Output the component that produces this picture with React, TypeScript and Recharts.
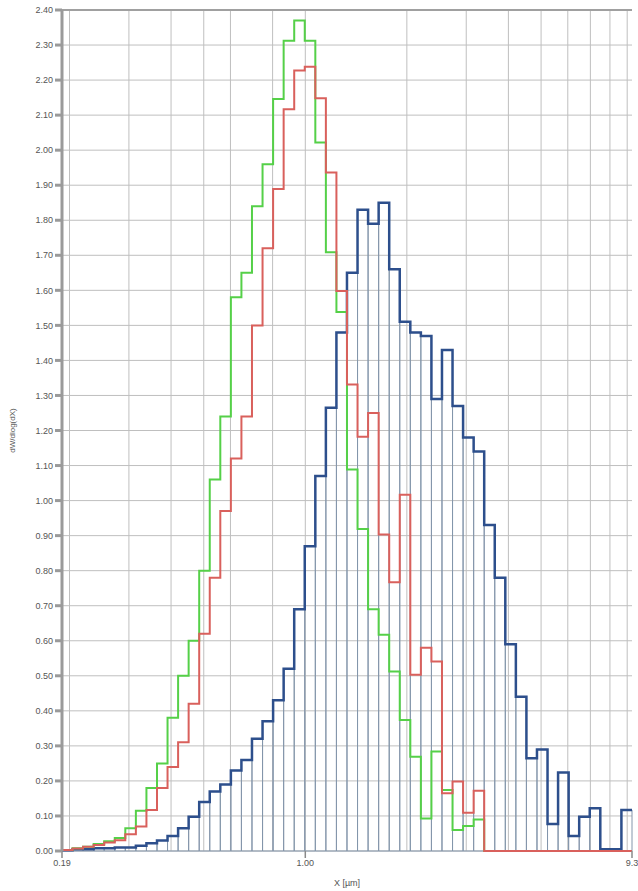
import React from 'react';
import { ComposedChart, Line, XAxis, YAxis, CartesianGrid, ReferenceArea, ReferenceLine } from 'recharts';

// bin edges (µm), log-spaced classes from 0.19 to 9.3
const binEdges = [
  0.19, 0.2042, 0.2194, 0.2358, 0.2534, 0.2724, 0.2927, 0.3146, 0.3381, 0.3634,
  0.3905, 0.4197, 0.451, 0.4847, 0.5209, 0.5598, 0.6017, 0.6466, 0.6949, 0.7469,
  0.8027, 0.8626, 0.9271, 0.9963, 1.0708, 1.1508, 1.2367, 1.3291, 1.4284, 1.5351,
  1.6498, 1.7731, 1.9055, 2.0479, 2.2009, 2.3653, 2.542, 2.7319, 2.936, 3.1553,
  3.3911, 3.6444, 3.9166, 4.2092, 4.5237, 4.8616, 5.2248, 5.6151, 6.0346, 6.4854,
  6.9699, 7.4906, 8.0501, 8.6515, 9.3,
];

const blueSeries = [
  0.002, 0.005, 0.005, 0.008, 0.008, 0.01, 0.01, 0.015, 0.022, 0.03,
  0.043, 0.065, 0.098, 0.14, 0.17, 0.19, 0.23, 0.26, 0.32, 0.37,
  0.43, 0.52, 0.69, 0.87, 1.07, 1.265, 1.48, 1.65, 1.83, 1.79,
  1.85, 1.66, 1.51, 1.48, 1.47, 1.29, 1.43, 1.27, 1.18, 1.14,
  0.93, 0.78, 0.59, 0.44, 0.265, 0.29, 0.077, 0.224, 0.043, 0.098,
  0.122, 0.005, 0.005, 0.117,
];

const greenSeries = [
  0.003, 0.008, 0.012, 0.02, 0.028, 0.037, 0.065, 0.115, 0.18, 0.25,
  0.38, 0.5, 0.6, 0.8, 1.06, 1.24, 1.58, 1.65, 1.84, 1.96,
  2.146, 2.312, 2.37, 2.312, 2.022, 1.709, 1.538, 1.089, 0.919, 0.69,
  0.617, 0.512, 0.374, 0.269, 0.093, 0.284, 0.174, 0.06, 0.071, 0.09,
  0, 0, 0, 0, 0, 0, 0, 0, 0, 0,
  0, 0, 0, 0,
];

const redSeries = [
  0.003, 0.007, 0.012, 0.017, 0.024, 0.031, 0.048, 0.07, 0.117, 0.18,
  0.24, 0.31, 0.42, 0.62, 0.78, 0.97, 1.12, 1.24, 1.5, 1.72,
  1.889, 2.117, 2.227, 2.238, 2.148, 1.936, 1.598, 1.331, 1.182, 1.25,
  0.903, 0.767, 1.017, 0.503, 0.58, 0.541, 0.165, 0.198, 0.109, 0.172,
  0, 0, 0, 0, 0, 0, 0, 0, 0, 0,
  0, 0, 0, 0,
];

const yTicks = [
  0, 0.1, 0.2, 0.3, 0.4, 0.5, 0.6, 0.7, 0.8, 0.9, 1.0, 1.1, 1.2,
  1.3, 1.4, 1.5, 1.6, 1.7, 1.8, 1.9, 2.0, 2.1, 2.2, 2.3, 2.4,
];
const xTicks = [0.19, 1, 9.3];
const xTickLabels = ['0.19', '1.00', '9.3'];
const xGridValues = [
  0.2, 0.3, 0.4, 0.5, 0.6, 0.7, 0.8, 0.9, 1, 2, 3, 4, 5, 6, 7, 8, 9,
];

const nBins = blueSeries.length;
const chartData = binEdges.map((x, i) => {
  const j = Math.min(i, nBins - 1);
  return { x, blue: blueSeries[j], green: greenSeries[j], red: redSeries[j] };
});

const FONT = '"Liberation Sans", Arial, sans-serif';

export default function App() {
  return (
    <div style={{ position: 'absolute', left: 0, top: 0, width: 638, height: 891, background: '#fff' }}>
      <ComposedChart
        width={638}
        height={891}
        data={chartData}
        margin={{ top: 10, right: 6, left: 0, bottom: 0 }}
      >
        <CartesianGrid
          stroke="#bfbfbf"
          strokeWidth={1}
          horizontalValues={yTicks}
          verticalValues={xGridValues}
        />
        <XAxis
          dataKey="x"
          type="number"
          scale="log"
          domain={[0.19, 9.3]}
          allowDataOverflow
          ticks={xTicks}
          tickFormatter={(v: number) => xTickLabels[xTicks.indexOf(v)] ?? String(v)}
          height={40}
          axisLine={false}
          tickLine={{ stroke: '#8a8a8a', strokeWidth: 1.5 }}
          tickSize={7}
          tick={{ fontSize: 9, fill: '#555', fontFamily: FONT }}
          label={{ value: 'X [µm]', position: 'insideBottom', offset: 5, fontSize: 9, fill: '#555', fontFamily: FONT }}
        />
        <YAxis
          type="number"
          domain={[0, 2.4]}
          ticks={yTicks}
          interval={0}
          tickFormatter={(v: number) => v.toFixed(2)}
          width={62}
          stroke="#9a9a9a"
          strokeWidth={3}
          tickSize={7}
          tick={{ fontSize: 9, fill: '#555', fontFamily: FONT }}
          label={{ value: 'dW/dlog(dX)', angle: -90, position: 'insideLeft', offset: 12, fontSize: 8, fill: '#555', fontFamily: FONT, style: { textAnchor: 'middle' } }}
        />
        <ReferenceLine y={2.4} stroke="#a0a0a0" strokeWidth={2} ifOverflow="visible" />
        {blueSeries.map((v, i) => (
          <ReferenceArea
            key={i}
            x1={binEdges[i]}
            x2={binEdges[i + 1]}
            y1={0}
            y2={v}
            fill="none"
            fillOpacity={0}
            stroke="#8496ab"
            strokeWidth={1}
            strokeOpacity={1}
            ifOverflow="visible"
          />
        ))}
        <Line
          type="stepAfter"
          dataKey="blue"
          stroke="#2d4f8c"
          strokeWidth={2.5}
          dot={false}
          activeDot={false}
          isAnimationActive={false}
        />
        <Line
          type="stepAfter"
          dataKey="green"
          stroke="#55d048"
          strokeWidth={2}
          dot={false}
          activeDot={false}
          isAnimationActive={false}
        />
        <Line
          type="stepAfter"
          dataKey="red"
          stroke="#d9605c"
          strokeWidth={2}
          dot={false}
          activeDot={false}
          isAnimationActive={false}
        />
      </ComposedChart>
    </div>
  );
}
